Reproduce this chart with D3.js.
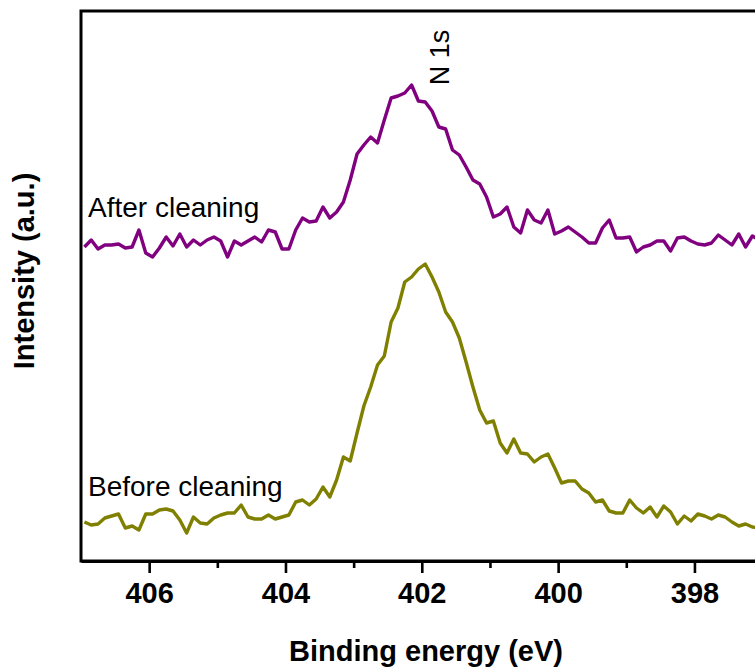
<!DOCTYPE html>
<html>
<head>
<meta charset="utf-8">
<script src="https://cdn.jsdelivr.net/npm/d3@7"></script>
<style>
  body { margin: 0; background: #fff; }
  svg { display: block; }
  text { font-family: "Liberation Sans", Arial, Helvetica, sans-serif; fill: #000; }
</style>
</head>
<body>
<script>
// N 1s XPS spectra, binding energy grid: 406.95 eV downward in 0.1 eV steps
const energyStart = 406.95;
const energyStep = 0.1;

// Intensity (a.u.) after cleaning
const afterCleaning = [
  314, 321, 312, 316, 316, 317, 313, 314, 331, 308,
  304, 313, 324, 315, 327, 314, 321, 316, 321, 324,
  320, 304, 320, 316, 320, 324, 319, 331, 329, 312,
  312, 331, 343, 339, 340, 354, 343, 349, 359, 381,
  407, 416, 424, 418, 441, 463, 465, 468, 476, 460,
  459, 450, 434, 432, 411, 406, 394, 381, 377, 364,
  344, 347, 354, 334, 328, 351, 341, 338, 351, 327,
  330, 334, 329, 324, 318, 318, 333, 341, 323, 323,
  324, 309, 314, 316, 320, 320, 310, 323, 324, 320,
  317, 316, 318, 326, 321, 316, 327, 314, 325, 321
];

// Intensity (a.u.) before cleaning
const beforeCleaning = [
  39, 36, 37, 43, 45, 47, 33, 35, 31, 47,
  47, 51, 52, 50, 41, 28, 44, 38, 37, 43,
  46, 48, 48, 56, 44, 42, 42, 46, 42, 44,
  46, 59, 61, 56, 62, 74, 64, 81, 104, 100,
  128, 155, 174, 196, 205, 239, 253, 279, 284, 292,
  297, 284, 269, 249, 239, 223, 199, 174, 151, 138,
  140, 118, 108, 122, 108, 107, 99, 104, 107, 93,
  78, 80, 80, 72, 68, 59, 61, 50, 48, 48,
  61, 53, 48, 54, 44, 55, 49, 37, 45, 40,
  47, 45, 42, 46, 44, 39, 35, 37, 34, 33
];

const majorTicks = [406, 404, 402, 400, 398];
const minorTicks = [405, 403, 401, 399];
const seriesLabels = ["After cleaning", "Before cleaning"];
const seriesColors = ["#800080", "#808000"];
const peakLabel = "N 1s";
const xTitle = "Binding energy (eV)";
const yTitle = "Intensity (a.u.)";

const W = 755, H = 672;
const plotLeft = 81, plotTop = 11, plotBottom = 561;

const x = d3.scaleLinear().domain([407, 397]).range([plotLeft, 762.6]);
const y = d3.scaleLinear().domain([0, 550]).range([plotBottom, plotTop]);

const svg = d3.select("body").append("svg")
  .attr("width", W).attr("height", H);

const energies = afterCleaning.map((_, i) => +(energyStart - i * energyStep).toFixed(2));

const line = d3.line()
  .x((d, i) => x(energies[i]))
  .y(d => y(d));

// clip region for the plot area
svg.append("defs").append("clipPath").attr("id", "plot-clip")
  .append("rect")
  .attr("x", plotLeft).attr("y", plotTop)
  .attr("width", x(397) - plotLeft).attr("height", plotBottom - plotTop);

const plot = svg.append("g").attr("clip-path", "url(#plot-clip)");

[afterCleaning, beforeCleaning].forEach((series, k) => {
  plot.append("path")
    .datum(series)
    .attr("d", line)
    .attr("fill", "none")
    .attr("stroke", seriesColors[k])
    .attr("stroke-width", 3.4)
    .attr("stroke-linejoin", "round");
});

// frame
svg.append("rect")
  .attr("x", plotLeft).attr("y", plotTop)
  .attr("width", x(397) - plotLeft).attr("height", plotBottom - plotTop)
  .attr("fill", "none")
  .attr("stroke", "#000")
  .attr("stroke-width", 3);

// minor ticks
const minorAxis = svg.append("g")
  .attr("transform", `translate(0,${plotBottom})`)
  .call(d3.axisBottom(x).tickValues(minorTicks).tickSize(7).tickSizeOuter(0).tickFormat(""));
minorAxis.select(".domain").remove();
minorAxis.selectAll("line").attr("stroke", "#000").attr("stroke-width", 2.6);

// major ticks with labels
const majorAxis = svg.append("g")
  .attr("transform", `translate(0,${plotBottom})`)
  .call(d3.axisBottom(x).tickValues(majorTicks).tickSize(12).tickSizeOuter(0).tickFormat(d3.format("d")));
majorAxis.select(".domain").attr("stroke", "#000").attr("stroke-width", 3);
majorAxis.selectAll("line").attr("stroke", "#000").attr("stroke-width", 2.6);
majorAxis.selectAll("text")
  .attr("y", 42).attr("dy", null)
  .style("font-family", '"Liberation Sans", Arial, sans-serif')
  .style("font-size", "29px")
  .style("font-weight", "bold")
  .attr("fill", "#000");

// axis titles
svg.append("text")
  .attr("x", 426).attr("y", 661)
  .attr("text-anchor", "middle")
  .style("font-size", "29px").style("font-weight", "bold")
  .text(xTitle);

svg.append("text")
  .attr("transform", "translate(34,271) rotate(-90)")
  .attr("text-anchor", "middle")
  .style("font-size", "29px").style("font-weight", "bold")
  .text(yTitle);

// series labels
svg.append("text")
  .attr("x", 88).attr("y", 217)
  .style("font-size", "28px")
  .text(seriesLabels[0]);

svg.append("text")
  .attr("x", 88).attr("y", 496)
  .style("font-size", "28px")
  .text(seriesLabels[1]);

// peak label
svg.append("text")
  .attr("transform", "translate(449,57.5) rotate(-90)")
  .attr("text-anchor", "middle")
  .style("font-size", "27px")
  .text(peakLabel);
</script>
</body>
</html>
